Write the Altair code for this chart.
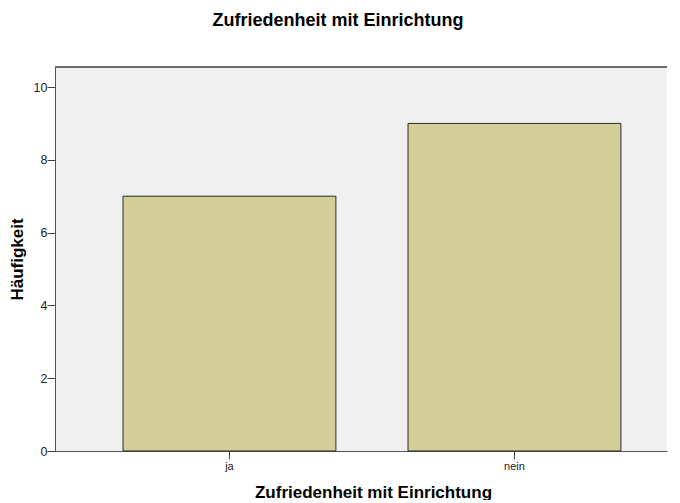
import altair as alt
import pandas as pd

categories = ["ja", "nein"]
counts = [7, 9]
y_ticks = [0, 2, 4, 6, 8, 10]

df = pd.DataFrame({"cat": categories, "n": counts})

FONT = "Liberation Sans"
W, H = 612, 384

bars = alt.Chart(df).mark_bar(
    fill="#d3ce97", stroke="#2b2b2b", strokeWidth=1
).encode(
    x=alt.X("cat:N", sort=categories,
            title="Zufriedenheit mit Einrichtung",
            scale=alt.Scale(paddingInner=0.253, paddingOuter=0.2002, align=0.596),
            axis=alt.Axis(labelAngle=0, labelFontSize=11, labelColor="#222",
                          titleFontSize=17, titleFontWeight="bold", titleColor="#000",
                          titlePadding=13, titleX=318, titleAlign="center",
                          tickSize=8, tickColor="#444",
                          domainColor="#555", labelPadding=1)),
    y=alt.Y("n:Q", title="Häufigkeit",
            scale=alt.Scale(domain=[0, 10.55], nice=False),
            axis=alt.Axis(values=y_ticks, grid=False, labelFontSize=12.5, labelColor="#222",
                          titleFontSize=17, titleFontWeight="bold", titleColor="#000",
                          titlePadding=7, tickSize=8, tickColor="#444",
                          domainColor="#555", labelPadding=0)),
)

top_line = alt.Chart(df).mark_rule(color="#666", strokeWidth=1.5).encode(
    x=alt.value(0), x2=alt.value(W), y=alt.value(0)
)

chart = alt.layer(bars, top_line).properties(
    width=W, height=H,
    title=alt.TitleParams("Zufriedenheit mit Einrichtung", fontSize=18, fontWeight="bold",
                          font=FONT, anchor="middle", frame="bounds", offset=36, color="#000"),
).configure(
    font=FONT, padding={"left": 0, "top": 4, "right": 0, "bottom": 0}
).configure_view(
    fill="#f0f0f0", strokeWidth=0
).configure_axis(
    labelFont=FONT, titleFont=FONT
)

chart.save("out.html", embed_options={"renderer": "svg", "actions": False})
